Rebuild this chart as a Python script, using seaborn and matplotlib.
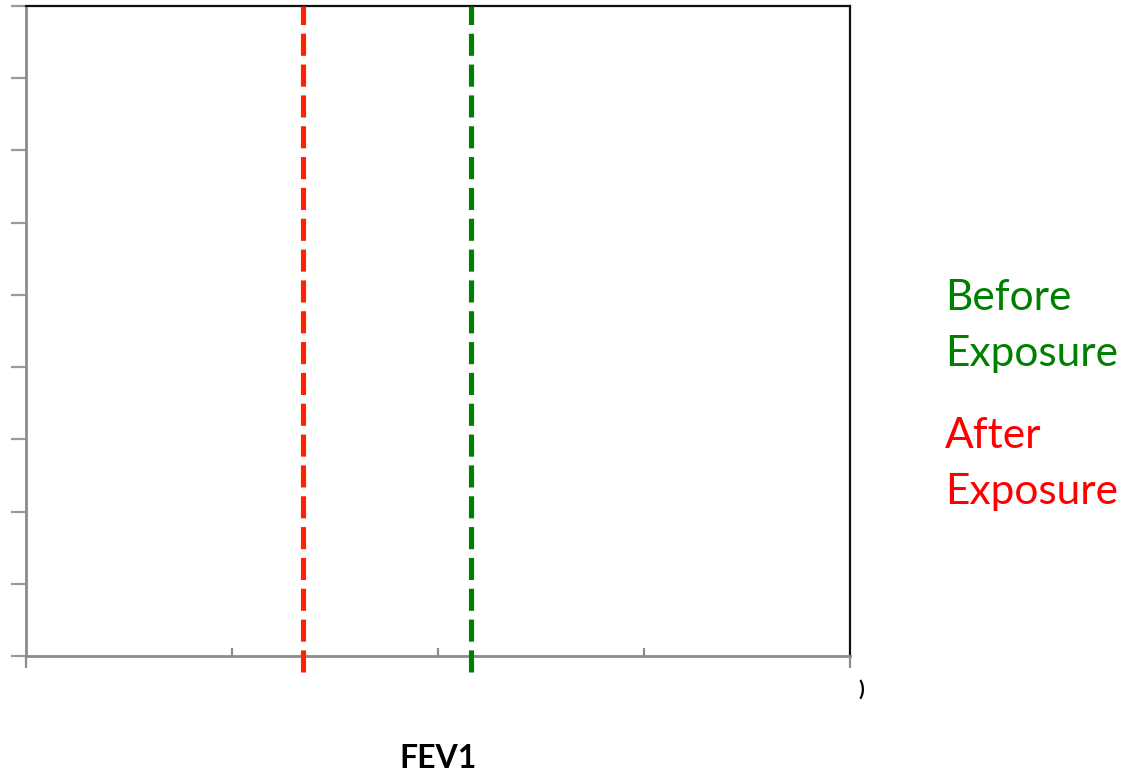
import matplotlib
matplotlib.use("Agg")
import matplotlib.pyplot as plt
import seaborn as sns
import pandas as pd

# Data
series = ["Before\nExposure", "After\nExposure"]
fev1_values = [2.16, 1.345]
series_colors = ["#008000", "#ff2200"]
x_major = [0, 4]
x_minor = [1, 2, 3]
y_ticks = list(range(0, 10))
x_label = "FEV1"

sns.set_style("white")
plt.rcParams['font.family'] = ['Lato', 'DejaVu Sans']

fig = plt.figure(figsize=(11.28, 7.77), dpi=100)
ax = fig.add_axes([26/1128, 1-656/777, (850-26)/1128, (656-6)/777])
ax.set_xlim(0, 4)
ax.set_ylim(0, 9)

below = -16/650*9
for v, c in zip(fev1_values, series_colors):
    df = pd.DataFrame({"x": [v, v], "y": [below, 9]})
    sns.lineplot(data=df, x="x", y="y", ax=ax, color=c, linewidth=3.7,
                 linestyle=(0, (4.3, 1.7)), sort=False, estimator=None,
                 orient="y", clip_on=False, zorder=5)

ax.set_xlabel("")
ax.set_ylabel("")
ax.set_xticks(x_major)
ax.set_xticks(x_minor, minor=True)
ax.set_xticklabels([])
ax.set_yticks(y_ticks)
ax.set_yticklabels([])
ax.tick_params(axis="x", which="major", direction="out", length=8.6, width=1.6, color="#8c8c8c", bottom=True)
ax.tick_params(axis="x", which="minor", direction="in", length=5.8, width=1.6, color="#8c8c8c", bottom=True)
ax.tick_params(axis="y", which="major", direction="out", length=11, width=1.6, color="#9a9a9a", left=True)

for s in ["left", "bottom"]:
    ax.spines[s].set_color("#8c8c8c")
    ax.spines[s].set_linewidth(2)
for s in ["top", "right"]:
    ax.spines[s].set_color("#111111")
    ax.spines[s].set_linewidth(1.6)
    ax.spines[s].set_visible(True)

fig.text(438/1128, 1-758/777, x_label, ha="center", va="center", fontsize=23,
         fontweight="bold", color="black")
fig.text(945/1128, 1-326/777, series[0], ha="left", va="center", fontsize=30.5,
         color=series_colors[0], linespacing=1.6)
fig.text(945/1128, 1-464/777, series[1], ha="left", va="center", fontsize=30.5,
         color="#ff0000", linespacing=1.6)
fig.text(861/1128, 1-690/777, ")", ha="center", va="center", fontsize=15,
         fontweight="bold", color="#000000")

fig.savefig("out.png", dpi=100)
